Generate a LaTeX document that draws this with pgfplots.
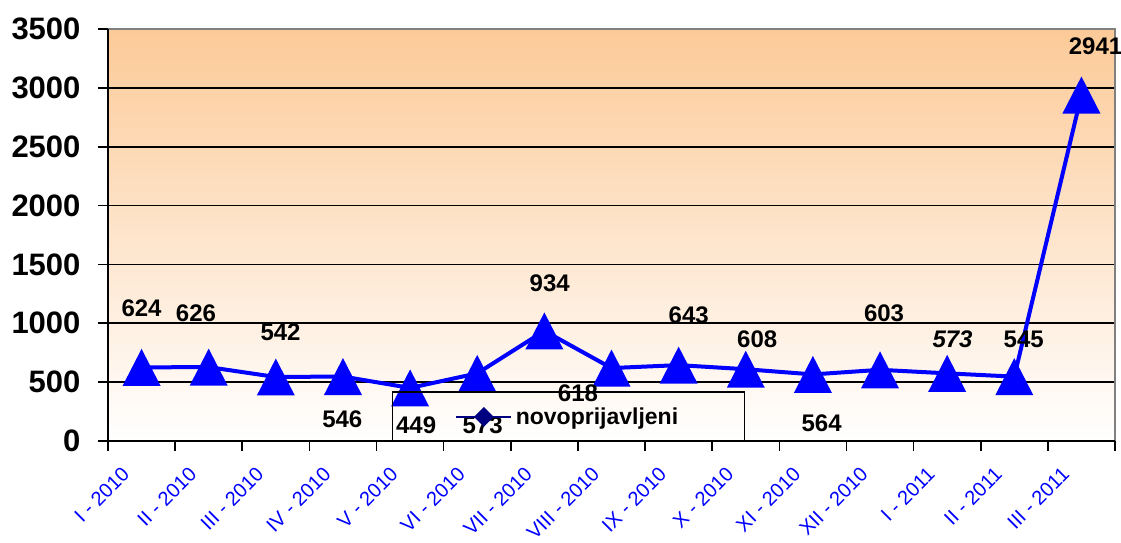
\documentclass[border=0pt]{standalone}
\usepackage{fontspec}
\setmainfont{Liberation Sans}
\usepackage{pgfplots}
\pgfplotsset{compat=1.18}
\usepackage{pgfplotstable}
\definecolor{peach}{RGB}{252,202,152}
\definecolor{navyb}{RGB}{0,0,128}
\definecolor{serblue}{RGB}{0,0,255}
\pgfdeclareplotmark{xtri}{%
  \pgfpathmoveto{\pgfpoint{0pt}{18.5pt}}%
  \pgfpathlineto{\pgfpoint{19pt}{-18.5pt}}%
  \pgfpathlineto{\pgfpoint{-19pt}{-18.5pt}}%
  \pgfpathclose
  \pgfusepathqfill}

\pgfplotstableread{
x y
0 624
1 626
2 542
3 546
4 449
5 573
6 934
7 618
8 643
9 608
10 564
11 603
12 573
13 545
14 2941
}\datatab

\pgfplotstableread{
x y t
0 1126 624
0.81 1084 626
2.07 927 542
2.99 185 546
4.09 134 449
5.08 134 573
6.08 1339 934
6.50 406 618
8.15 1069 643
9.17 861 608
10.13 148 564
11.06 1084 603
13.14 861 545
14.21 3360 2941
}\labtab

\pgfplotstableread{
x y t
12.08 861 573
}\labital

\begin{document}
\begin{tikzpicture}
\useasboundingbox (-108pt,-102.3pt) rectangle (1013pt,440.7pt);
\begin{axis}[
  scale only axis, width=1007pt, height=411.4pt,
  clip=false,
  xmin=-0.5, xmax=14.5, ymin=0, ymax=3500,
  axis background/.style={top color=peach, bottom color=white},
  axis line style={draw=none},
  tick pos=left,
  ytick={0,500,...,3500},
  ymajorgrids, xmajorgrids=false,
  major grid style={black, line width=1.6pt},
  tick align=outside,
  tick style={black, line width=1.6pt},
  major tick length=10pt,
  xtick={-0.5,0.5,...,14.5},
  xticklabels={},
  extra x ticks={0,...,14},
  extra x tick labels={I - 2010,II - 2010,III - 2010,IV - 2010,V - 2010,VI - 2010,VII - 2010,VIII - 2010,IX - 2010,X - 2010,XI - 2010,XII - 2010,I - 2011,II - 2011,III - 2011},
  extra x tick style={major tick length=0pt, grid=none,
    tick label style={font=\fontsize{20}{20}\selectfont, text=blue, rotate=45, anchor=east, xshift=-29pt, yshift=-10pt}},
  /pgf/number format/assume math mode=true,
  /pgf/number format/1000 sep={},
  yticklabel style={font=\fontsize{31}{31}\selectfont\bfseries, xshift=-14pt},
  legend style={at={(0.2817,-0.004)}, anchor=south west, draw=black, line width=1.3pt, fill=none,
    inner xsep=63pt, inner ysep=12pt,
    nodes={inner sep=3.5pt, text depth=0.2em},
    font=\fontsize{23}{23}\selectfont\bfseries},
  legend image code/.code={%
    \draw[navyb, line width=2pt] (0pt,0pt) -- (55pt,0pt);
    \fill[navyb] (27.5pt,7pt) -- (34.5pt,0pt) -- (27.5pt,-7pt) -- (20.5pt,0pt) -- cycle;},
]
\addplot[serblue, line width=4pt, mark=xtri, mark options={solid}] table[x=x,y=y]{\datatab};
\addlegendentry{novoprijavljeni}
\addplot[draw=none, mark=none, forget plot, nodes near coords, point meta=explicit symbolic,
  every node near coord/.style={anchor=center, inner sep=0pt, font=\fontsize{24}{24}\selectfont\bfseries}]
  table[x=x,y=y,meta=t]{\labtab};
\addplot[draw=none, mark=none, forget plot, nodes near coords, point meta=explicit symbolic,
  every node near coord/.style={anchor=center, inner sep=0pt, font=\fontsize{24}{24}\selectfont\bfseries\itshape}]
  table[x=x,y=y,meta=t]{\labital};
\draw[gray, line width=2pt] (rel axis cs:0,1) -- (rel axis cs:1,1) -- (rel axis cs:1,0);
\draw[black, line width=2pt] (rel axis cs:0,1) -- (rel axis cs:0,0) -- (rel axis cs:1,0);
\end{axis}
\end{tikzpicture}
\end{document}
